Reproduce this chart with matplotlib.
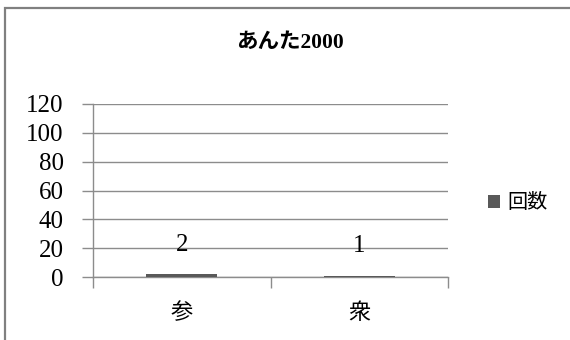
import matplotlib
matplotlib.use("Agg")
import matplotlib.pyplot as plt
from matplotlib.patches import Rectangle

categories = ["参", "衆"]
values = [2, 1]
series_name = "回数"
title = "あんた2000"
yticks = [0, 20, 40, 60, 80, 100, 120]

W, H = 570, 340
fig = plt.figure(figsize=(W / 100, H / 100), dpi=100)
serif = ["Liberation Serif", "Noto Sans CJK JP"]
cjk = ["Noto Sans CJK JP", "Liberation Serif"]

# outer chart border
fig.patches.append(Rectangle((5 / W, -0.2), 1.3, 1.2 - 8 / H,
                             transform=fig.transFigure, fill=False,
                             edgecolor="#808080", linewidth=1.6))

ax = fig.add_axes([93 / W, 1 - 277 / H, (448 - 93) / W, (277 - 104) / H])
x = list(range(len(categories)))
bars = ax.bar(x, values, width=0.4, color="#595959", label=series_name, zorder=3)
ax.set_xlim(-0.5, len(categories) - 0.5)
ax.set_ylim(0, 120)
ax.set_yticks(yticks)
ax.set_yticklabels([str(t) for t in yticks], fontfamily=serif, fontsize=18)
ax.yaxis.grid(True, color="#8c8c8c", linewidth=1, zorder=0)
ax.set_xticks([-0.5, 0.5, 1.5])
ax.set_xticklabels([])
ax.set_xticks(x, minor=True)
ax.set_xticklabels(categories, minor=True, fontfamily=cjk, fontsize=16)
ax.tick_params(axis="x", which="minor", length=0, pad=17)
ax.tick_params(axis="x", which="major", length=8, color="#8c8c8c", width=1)
ax.tick_params(axis="y", length=8, color="#8c8c8c", width=1, pad=13)
for s in ["top", "right"]:
    ax.spines[s].set_visible(False)
for s in ["left", "bottom"]:
    ax.spines[s].set_color("#8c8c8c")
    ax.spines[s].set_linewidth(1)

for xi, v in zip(x, values):
    ax.annotate(str(v), (xi, v), xytext=(0, 21), textcoords="offset points",
                ha="center", va="center", fontfamily=serif, fontsize=18)

fig.text(290 / W, 1 - 43 / H, title, ha="center", va="center",
         fontfamily=serif, fontsize=15.5, fontweight="bold")

fig.legend(handles=[bars], labels=[series_name], loc="center left",
           bbox_to_anchor=(488 / W, 1 - 203 / H), frameon=False,
           borderpad=0, borderaxespad=0,
           handlelength=0.6, handleheight=0.6, handletextpad=0.35,
           prop={"family": cjk, "size": 14.5})

fig.savefig("out.png", dpi=100)
